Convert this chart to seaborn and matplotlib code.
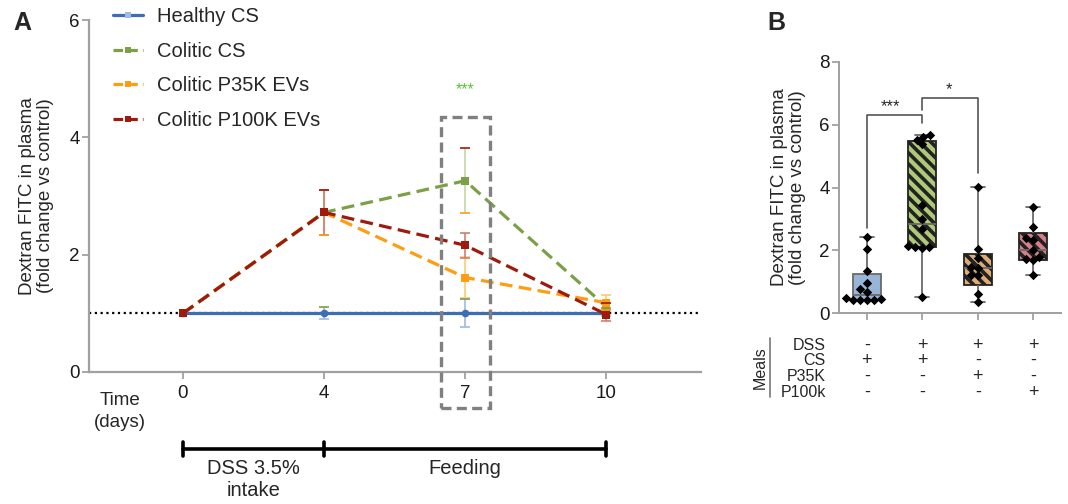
import numpy as np
import pandas as pd
import matplotlib
matplotlib.use("Agg")
import matplotlib.pyplot as plt
import matplotlib.transforms as mtransforms
from matplotlib.lines import Line2D
from matplotlib.patches import Rectangle
import seaborn as sns

# ---------------- Panel A data ----------------
days = ["0", "4", "7", "10"]
series_names = ["Healthy CS", "Colitic CS", "Colitic P35K EVs", "Colitic P100K EVs"]
healthy_mean = [1.0, 1.0, 1.0, 1.0]
healthy_err = [0.0, 0.10, 0.24, 0.05]
colitic_mean = [1.0, 2.72, 3.26, 1.11]
colitic_err = [0.0, 0.38, 0.55, 0.06]
p35k_mean = [1.0, 2.72, 1.61, 1.18]
p35k_err = [0.0, 0.38, 0.35, 0.14]
p100k_mean = [1.0, 2.72, 2.16, 0.98]
p100k_err = [0.0, 0.38, 0.21, 0.11]

# ---------------- Panel B data ----------------
groups = ["Healthy", "Colitic CS", "Colitic P35K", "Colitic P100K"]
healthy_pts = [2.42, 2.04, 1.33, 0.95, 0.76, 0.68, 0.47, 0.41, 0.40, 0.40, 0.42, 0.46]
colitic_pts = [5.68, 5.62, 5.52, 5.38, 3.44, 3.00, 2.68, 2.12, 2.09, 2.08, 2.10, 0.50]
p35k_pts = [4.03, 2.03, 1.74, 1.47, 1.45, 1.21, 1.20, 0.60, 0.36]
p100k_pts = [3.39, 2.73, 2.38, 2.33, 2.00, 1.79, 1.72, 1.69, 1.21]

table_rows = ["DSS", "CS", "P35K", "P100k"]
dss_signs = ["-", "+", "+", "+"]
cs_signs = ["+", "+", "-", "-"]
p35k_signs = ["-", "-", "+", "-"]
p100k_signs = ["-", "-", "-", "+"]

# ---------------- style ----------------
sns.set_theme(style="ticks")
plt.rcParams["font.family"] = ["Liberation Sans", "DejaVu Sans"]
plt.rcParams["hatch.linewidth"] = 2.6
plt.rcParams["hatch.color"] = "#111111"
plt.rcParams["axes.linewidth"] = 1.4

# GraphPad-style quartiles ((n+1)p method) for the boxes
import matplotlib.cbook as cbook
_orig_stats = cbook.boxplot_stats


def _gp_stats(X, *args, **kwargs):
    stats = _orig_stats(X, *args, **kwargs)
    arr = np.asarray(X, dtype=float).ravel()
    q1, med, q3 = np.percentile(arr, [25, 50, 75], method="weibull")
    stats[0].update(q1=q1, med=med, q3=q3)
    return stats


matplotlib.cbook.boxplot_stats = _gp_stats

fig = plt.figure(figsize=(10.68, 5.04), dpi=100)
W, H = 1068.0, 504.0
axA = fig.add_axes([89 / W, 132 / H, 612 / W, 352 / H])
axB = fig.add_axes([839 / W, 191 / H, 222 / W, 251 / H])

spine_col = "#a0a0a0"
tick_col = "#999999"

# ---------------- Panel A ----------------
means = [healthy_mean, colitic_mean, p35k_mean, p100k_mean]
errs = [healthy_err, colitic_err, p35k_err, p100k_err]
line_cols = ["#3d6db3", "#7ba046", "#ff9c12", "#9e1a0c"]
mark_cols = ["#9dbbe3", "#7ba046", "#ff9c12", "#9e1a0c"]
err_cols = ["#9dbbe3", "#c2d8a0", "#ffcb70", "#cf7e6e"]
markers = ["o", "s", "s", "s"]
dash_styles = ["", (4, 2), (4, 2), (4, 2)]

pos = np.arange(len(days))
rows = []
for name, m in zip(series_names, means):
    for p, v in zip(pos, m):
        rows.append({"pos": p, "value": v, "series": name})
dfA = pd.DataFrame(rows)

axA.axhline(1.0, color="black", ls=(0, (1, 1.6)), lw=1.6, zorder=1)

for i, name in enumerate(series_names):
    e = np.array(errs[i])
    msk = e > 0
    axA.errorbar(pos[msk], np.array(means[i])[msk], yerr=e[msk], fmt="none",
                 ecolor=err_cols[i], elinewidth=1.2, capsize=3.5, capthick=1.2,
                 zorder=1.9 + i * 0.01)

sns.lineplot(data=dfA, x="pos", y="value", hue="series", style="series",
             hue_order=series_names, style_order=series_names,
             palette=dict(zip(series_names, line_cols)),
             dashes=dict(zip(series_names, dash_styles)),
             markers=dict(zip(series_names, markers)),
             markersize=5.5, markeredgewidth=0, lw=2.3, legend=False, ax=axA)

for i, ln in enumerate(axA.get_lines()[1:5]):
    ln.set_markerfacecolor(mark_cols[i])
    ln.set_markeredgecolor(mark_cols[i])
    ln.set_zorder(2 + i * 0.1)

axA.set_xlim(-0.665, 3.67)
axA.set_ylim(0, 6)
axA.set_xticks(pos)
axA.set_xticklabels(days)
axA.set_yticks([0, 2, 4, 6])
axA.set_xlabel("")
axA.set_ylabel("Dextran FITC in plasma\n(fold change vs control)", fontsize=13.5,
               linespacing=1.05)
axA.yaxis.set_label_coords(-0.058, 0.5)
for s in ["top", "right"]:
    axA.spines[s].set_visible(False)
for s in ["left", "bottom"]:
    axA.spines[s].set_color(spine_col)
    axA.spines[s].set_linewidth(1.6)
axA.tick_params(axis="both", length=5, width=1.2, color=tick_col, labelsize=13.5,
                labelcolor="#1a1a1a")
axA.tick_params(axis="y", pad=1.5)
axA.tick_params(axis="x", pad=4)

# legend
handles = [Line2D([0], [0], color=line_cols[i],
                  ls="-" if i == 0 else (0, (3, 1.6)), lw=2.3,
                  marker="s", markersize=5, markerfacecolor=mark_cols[i],
                  markeredgewidth=0)
           for i in range(4)]
axA.legend(handles, series_names, loc="upper left", bbox_to_anchor=(0.039, 1.037),
           frameon=False, fontsize=14.5, handlelength=1.5, handletextpad=0.7,
           labelspacing=0.78, borderpad=0, borderaxespad=0)

# highlight box around day 7
axA.add_patch(Rectangle((1.826, -0.61), 0.347, 4.96, fill=False, ec="#808080",
                        lw=2.4, ls=(0, (3, 1.6)), clip_on=False, zorder=5))
axA.text(2, 4.82, "***", color="#5cc23a", ha="center", va="center", fontsize=11.5)

# timeline beneath panel A
trA = mtransforms.blended_transform_factory(axA.transData, axA.transAxes)
y_bar = -0.219
axA.plot([0, 3], [y_bar, y_bar], color="black", lw=2.6, transform=trA, clip_on=False)
for xp in [0, 1, 3]:
    axA.plot([xp, xp], [y_bar - 0.021, y_bar + 0.021], color="black", lw=2.6,
             transform=trA, clip_on=False)
axA.text(-0.446, -0.112, "Time\n(days)", transform=trA, ha="center", va="center",
         fontsize=13.5, linespacing=1.35)
axA.text(0.5, -0.248, "DSS 3.5%\nintake", transform=trA, ha="center", va="top",
         fontsize=14.5, linespacing=1.15)
axA.text(2.0, -0.248, "Feeding", transform=trA, ha="center", va="top", fontsize=14.5)

fig.text(13 / W, 1 - 11 / H, "A", fontsize=18, fontweight="bold", va="top", ha="left")
fig.text(767 / W, 1 - 11 / H, "B", fontsize=18, fontweight="bold", va="top", ha="left")

# ---------------- Panel B ----------------
dfB = pd.DataFrame({
    "group": np.repeat(groups, [len(healthy_pts), len(colitic_pts), len(p35k_pts), len(p100k_pts)]),
    "value": healthy_pts + colitic_pts + p35k_pts + p100k_pts,
})
box_cols = ["#8db3e2", "#b3d66a", "#f0ac62", "#e6707e"]
sns.boxplot(data=dfB, x="group", y="value", hue="group", order=groups, hue_order=groups,
            palette=dict(zip(groups, box_cols)), width=0.5, whis=(0, 100),
            showfliers=False, linecolor="#6a6a6a", linewidth=1.3, legend=False, ax=axB)
for i, p in enumerate(axB.patches):
    if i > 0:
        p.set_hatch("\\\\\\")
        if hasattr(p, "set_hatchcolor"):
            p.set_hatchcolor("#111111")
            p.set_edgecolor("#444444")
        else:
            p.set_edgecolor("#222222")
sns.swarmplot(data=dfB, x="group", y="value", order=groups, color="black", marker="D",
              size=4.8, linewidth=0, ax=axB, zorder=4)

axB.set_xlim(-0.5, 3.5)
axB.set_ylim(0, 8)
axB.set_yticks([0, 2, 4, 6, 8])
axB.set_xticks(range(4))
axB.set_xticklabels([])
axB.set_xlabel("")
axB.set_ylabel("Dextran FITC in plasma\n(fold change vs control)", fontsize=13.5,
               linespacing=1.05)
axB.yaxis.set_label_coords(-0.149, 0.5)
for s in ["top", "right"]:
    axB.spines[s].set_visible(False)
for s in ["left", "bottom"]:
    axB.spines[s].set_color(spine_col)
    axB.spines[s].set_linewidth(1.4)
axB.tick_params(axis="both", length=5, width=1.2, color=tick_col, labelsize=13.5,
                labelcolor="#1a1a1a")
axB.tick_params(axis="y", pad=1.5)

# significance brackets
br = "#555555"
axB.plot([0, 0, 1, 1], [2.72, 6.32, 6.32, 6.04], color=br, lw=1.2, clip_on=False)
axB.text(0.42, 6.57, "***", ha="center", va="center", fontsize=12)
axB.plot([1, 1, 2, 2], [6.46, 6.86, 6.86, 4.45], color=br, lw=1.2, clip_on=False)
axB.text(1.49, 7.13, "*", ha="center", va="center", fontsize=12)

# treatment table below panel B
trB = mtransforms.blended_transform_factory(axB.transData, axB.transAxes)
row_y = [-0.1275, -0.1873, -0.251, -0.3158]
sign_rows = [dss_signs, cs_signs, p35k_signs, p100k_signs]
for ry, lab, signs in zip(row_y, table_rows, sign_rows):
    axB.text(-0.0586, ry, lab, transform=axB.transAxes, ha="right", va="center",
             fontsize=11.5)
    for xi, sg in enumerate(signs):
        axB.text(xi, ry, sg, transform=trB, ha="center", va="center", fontsize=13)
axB.text(-0.356, -0.219, "Meals", transform=axB.transAxes, rotation=90,
         ha="center", va="center", fontsize=11.5)
axB.plot([-0.311, -0.311], [-0.0996, -0.335], transform=axB.transAxes, color="#777777",
         lw=1.2, clip_on=False)

fig.savefig("out.png", dpi=100)
